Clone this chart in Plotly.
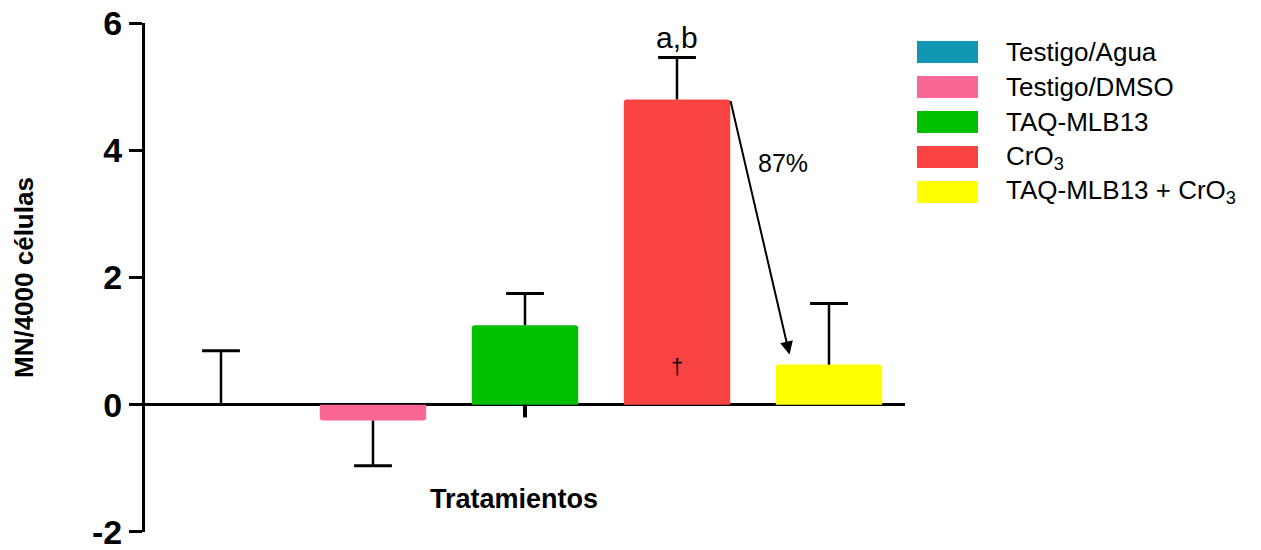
import plotly.graph_objects as go

# ---- data ----
categories = ["Testigo/Agua", "Testigo/DMSO", "TAQ-MLB13", "CrO<sub>3</sub>", "TAQ-MLB13 + CrO<sub>3</sub>"]
values = [0.0, -0.25, 1.25, 4.80, 0.63]
err_up = [0.85, 0.0, 0.50, 0.66, 0.96]
err_down = [0.0, 0.71, 0.0, 0.0, 0.0]
colors = ["#1297B3", "#FB6794", "#00C000", "#F94343", "#FFFF00"]
y_ticks = [-2, 0, 2, 4, 6]
y_ticktext = ["-2", "0", "2", "4", "6"]
y_title = "MN/4000 células"
x_title = "Tratamientos"
annot_sig = "a,b"
annot_pct = "87%"
annot_dagger = "†"

FONT = "Arial, Liberation Sans, sans-serif"
xs = list(range(len(categories)))

fig = go.Figure()

fig.add_trace(go.Bar(
    x=xs, y=values, width=0.7,
    marker=dict(color=colors, line=dict(width=0), cornerradius=3),
    error_y=dict(type="data", symmetric=False, array=err_up, arrayminus=err_down,
                 width=0, thickness=2.5, color="black"),
    showlegend=False, hoverinfo="skip",
))

# caps of the error bars
tips = [v + u if u > 0 else v - d for v, u, d in zip(values, err_up, err_down)]
fig.add_trace(go.Scatter(
    x=xs, y=tips, mode="markers",
    marker=dict(symbol="line-ew", size=27, line=dict(width=3, color="black")),
    showlegend=False, hoverinfo="skip",
))

shapes = []
annotations = []

# single x tick under middle category
shapes.append(dict(type="line", xref="x", yref="y", x0=2, x1=2, y0=0, y1=-0.2,
                   line=dict(color="black", width=4)))

# custom legend
row0, step = 52, 35
top_px, plot_h = 23, 509
def py2paper(py):
    return 1 - (py - top_px) / plot_h
for i, (name, col) in enumerate(zip(categories, colors)):
    cy = row0 + i * step
    shapes.append(dict(type="rect", xref="paper", yref="paper",
                       x0=(917 - 145) / 760, x1=(978 - 145) / 760,
                       y0=py2paper(cy + 11), y1=py2paper(cy - 11),
                       fillcolor=col, line=dict(width=0)))
    annotations.append(dict(xref="paper", yref="paper", x=(1004 - 145) / 760, y=py2paper(cy),
                            text=name, showarrow=False, xanchor="left", yanchor="middle",
                            font=dict(family=FONT, size=26, color="black")))

annotations += [
    dict(x=3, y=5.78, xref="x", yref="y", text=annot_sig, showarrow=False,
         font=dict(family=FONT, size=30, color="black")),
    dict(x=3.70, y=3.80, xref="x", yref="y", text=annot_pct, showarrow=False,
         font=dict(family=FONT, size=25, color="black")),
    dict(x=3, y=0.6, xref="x", yref="y", text=annot_dagger, showarrow=False,
         font=dict(family=FONT, size=22, color="black")),
    dict(x=3.74, y=0.79, xref="x", yref="y", ax=3.35, ay=4.8, axref="x", ayref="y",
         text="", showarrow=True, arrowhead=2, arrowsize=1.3, arrowwidth=2, arrowcolor="black"),
    dict(x=1.93, y=-1.49, xref="x", yref="y", text="<b>" + x_title + "</b>", showarrow=False,
         font=dict(family=FONT, size=27, color="black")),
    dict(x=(24 - 145) / 760, y=py2paper(278), xref="paper", yref="paper",
         xanchor="center", yanchor="middle",
         text="<b>" + y_title + "</b>", textangle=-90, showarrow=False,
         font=dict(family=FONT, size=26, color="black")),
]

fig.update_layout(
    width=1261, height=550,
    margin=dict(l=145, r=356, t=23, b=18, autoexpand=False),
    paper_bgcolor="white", plot_bgcolor="white",
    showlegend=False,
    xaxis=dict(range=[-0.5, 4.5], showline=False, showticklabels=False, ticks="",
               showgrid=False, zeroline=False, fixedrange=True, automargin=False),
    yaxis=dict(range=[-2.002, 6.002], tickvals=y_ticks, ticktext=y_ticktext,
               showline=True, linewidth=3, linecolor="black",
               ticks="outside", ticklen=13, tickwidth=3, tickcolor="black",
               tickfont=dict(family=FONT, size=34, color="black", weight="bold"),
               ticklabeloverflow="allow",
               showgrid=False, zeroline=True, zerolinewidth=3, zerolinecolor="black",
               fixedrange=True, automargin=False),
    shapes=shapes,
    annotations=annotations,
)

fig.write_html("out.html", config={"displayModeBar": False},
               post_script="document.body.style.margin='0px';")
